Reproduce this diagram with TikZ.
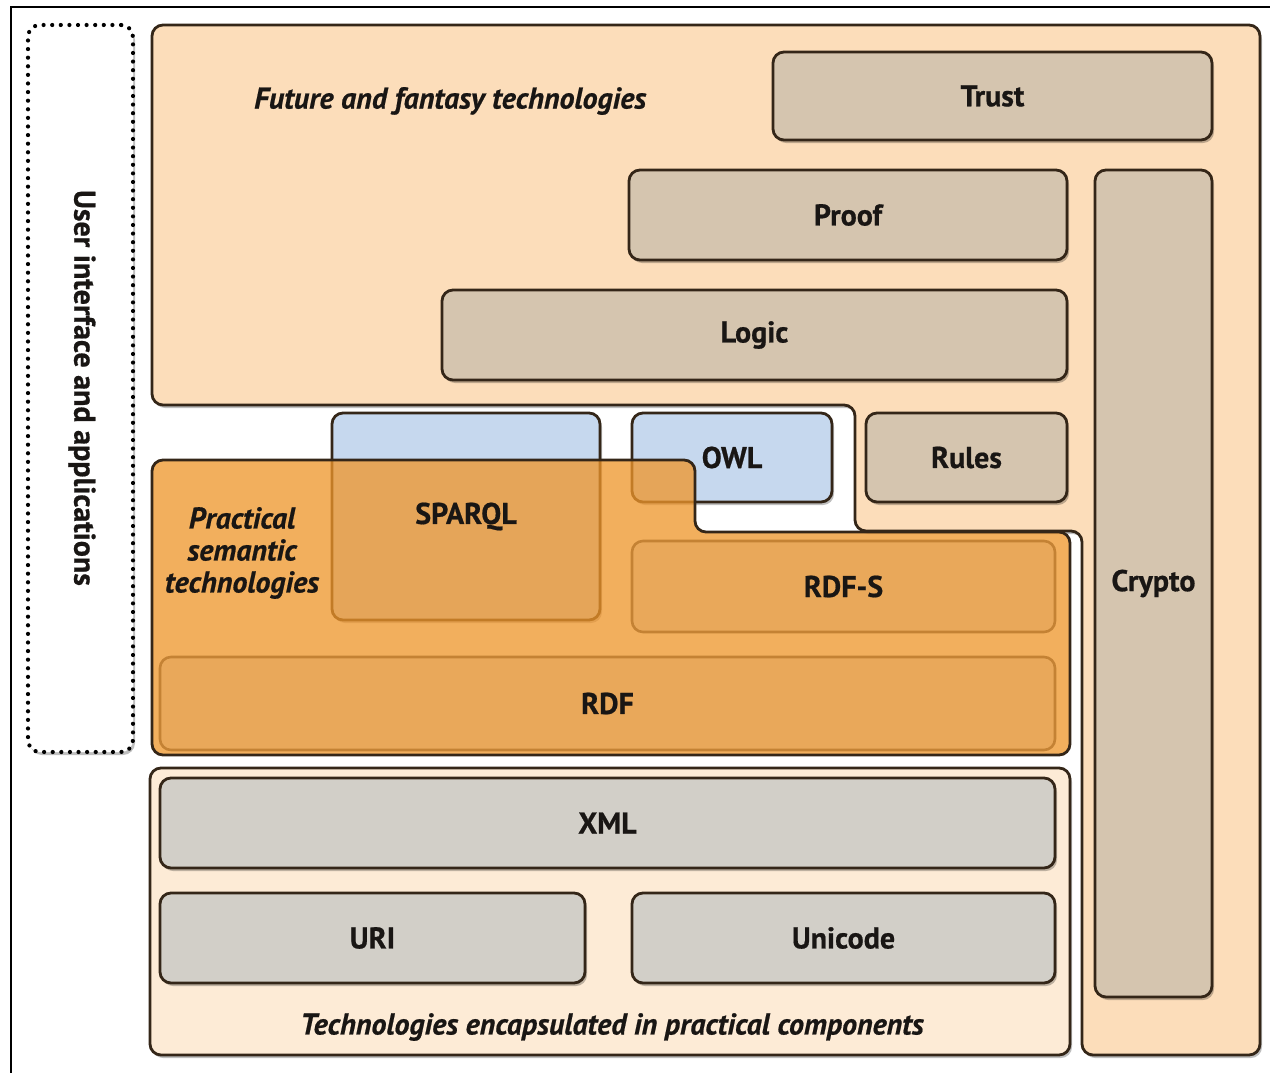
\documentclass[tikz,border=0pt]{standalone}
\usepackage{fontspec}
\setmainfont{PT Sans}[FakeBold=0.6]
\usetikzlibrary{shadows}
\definecolor{bdr}{RGB}{52,38,24}
\definecolor{futfill}{RGB}{252,221,186}
\definecolor{tanbox}{RGB}{213,197,175}
\definecolor{bluebox}{RGB}{198,216,238}
\definecolor{pracfill}{RGB}{239,150,43}
\definecolor{rdffill}{RGB}{233,168,90}
\definecolor{rdfbdr}{RGB}{196,130,52}
\definecolor{techfill}{RGB}{253,235,214}
\definecolor{graybox}{RGB}{210,207,200}
\definecolor{txt}{RGB}{25,22,20}
\tikzset{
  shd/.style={drop shadow={shadow xshift=2pt, shadow yshift=-3pt, opacity=0.25, fill=black}},
  box/.style={draw=bdr, line width=2.8pt, rounded corners=11pt, inner sep=0pt, shd,
    text=txt, font=\fontsize{30}{35}\selectfont\bfseries},
  tanstyle/.style={box, fill=tanbox},
  bluestyle/.style={box, fill=bluebox},
  graystyle/.style={box, fill=graybox},
  rdfstyle/.style={draw=rdfbdr, line width=2.6pt, rounded corners=11pt, inner sep=0pt,
    fill=rdffill, text=txt, font=\fontsize{30}{35}\selectfont\bfseries},
  lbl/.style={text=txt, font=\fontsize{30}{35}\selectfont\bfseries, inner sep=0pt},
  ital/.style={text=txt, font=\fontsize{30}{33}\selectfont\bfseries\itshape, inner sep=0pt},
  region/.style={draw=bdr, line width=2.8pt, rounded corners=11pt},
  dotbox/.style={draw=black, line width=4.2pt, dash pattern=on 0pt off 8.6pt, line cap=round,
    rounded corners=12pt, fill=white, shd}
}
\begin{document}
\begin{tikzpicture}[x=1pt,y=-1pt]
\useasboundingbox (0,0) rectangle (1270,1073);
\fill[white] (0,0) rectangle (1270,1073);
% outer frame lines
\draw[line width=1.6pt, black] (11,1073) -- (11,7) -- (1270,7);

% user interface box
\node[dotbox, minimum width=105pt, minimum height=727pt] (ui) at (80.5,388.5) {};
\node[lbl, rotate=-90] (uit) at (82,388) {User interface and applications};

% future region
\path[region, fill=futfill, shd] (152,25) -- (1260,25) -- (1260,1055) -- (1082,1055) -- (1082,531)
  -- (855,531) -- (855,405) -- (152,405) -- cycle;
\node[ital, anchor=west] (fut) at (254,101) {Future and fantasy technologies};

\node[tanstyle, minimum width=439pt, minimum height=88pt] (trust) at (992.5,96) {Trust};
\node[tanstyle, minimum width=438pt, minimum height=90pt] (proof) at (848,215) {Proof};
\node[tanstyle, minimum width=625pt, minimum height=90pt] (logic) at (754.5,335) {Logic};
\node[tanstyle, minimum width=117pt, minimum height=827pt] (crypto) at (1153.5,583.5) {Crypto};
\node[tanstyle, minimum width=201pt, minimum height=89pt] (rules) at (966.5,457.5) {Rules};

% blue boxes
\node[bluestyle, minimum width=268pt, minimum height=207pt] (sparql) at (466,516.5) {};
\node[bluestyle, minimum width=200pt, minimum height=89pt] (owl) at (732,457.5) {};

% practical region (semi transparent over blue boxes)
\path[region, fill=pracfill, fill opacity=0.76] (152,460) -- (695,460) -- (695,532) -- (1070,532)
  -- (1070,755) -- (152,755) -- cycle;
\node[lbl] (sparqlt) at (sparql.center) {SPARQL};
\node[lbl] (owlt) at (owl.center) {OWL};
\node[ital, align=center] (prac) at (242,553) {Practical\\[-1pt]semantic\\[-1pt]technologies};

\node[rdfstyle, minimum width=423pt, minimum height=91pt] (rdfs) at (843.5,586.5) {RDF-S};
\node[rdfstyle, minimum width=895pt, minimum height=93pt] (rdf) at (607.5,703.5) {RDF};

% technologies encapsulated region
\node[box, fill=techfill, minimum width=920pt, minimum height=287pt] (tech) at (610,911.5) {};
\node[graystyle, minimum width=895pt, minimum height=90pt] (xml) at (607.5,823) {XML};
\node[graystyle, minimum width=425pt, minimum height=90pt] (uri) at (372.5,938) {URI};
\node[graystyle, minimum width=423pt, minimum height=90pt] (unicode) at (843.5,938) {Unicode};
\node[ital] (techt) at (612,1027) {Technologies encapsulated in practical components};
\end{tikzpicture}
\end{document}
